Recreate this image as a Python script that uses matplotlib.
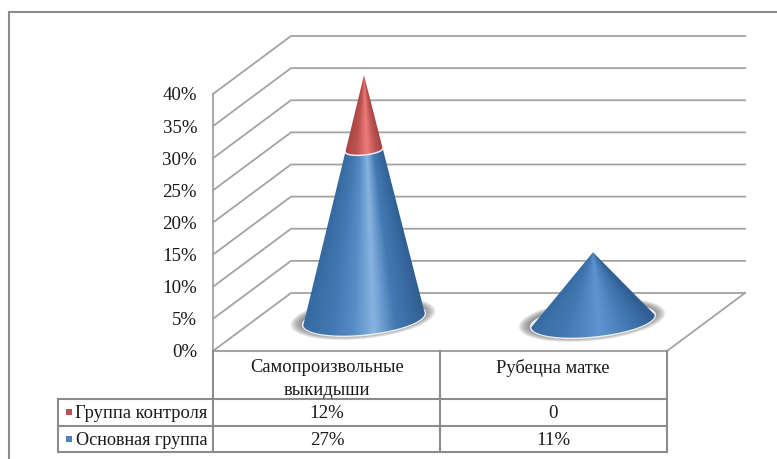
import numpy as np
from matplotlib import pyplot as plt
from matplotlib.patches import Ellipse, Polygon, Rectangle
from matplotlib.colors import LinearSegmentedColormap

plt.rcParams['font.family'] = ['Liberation Serif', 'DejaVu Serif']

categories = ['Самопроизвольные\nвыкидыши', 'Рубецна матке']
control_group = [12, 0]
main_group = [27, 11]
control_labels = ['12%', '0']
main_labels = ['27%', '11%']
series_names = ['Группа контроля', 'Основная группа']
y_ticks = [0, 5, 10, 15, 20, 25, 30, 35, 40]

GREY = '#a3a3a3'
DARK_GREY = '#8c8c8c'
TEXT = '#1a1a1a'

# floor and walls of the pseudo 3d box, in figure pixels
x_front, x_back, x_right_front, x_right_back = 213, 291, 667, 745
y_zero, y_top = 352, 95
depth = 58
per_percent = (y_zero - y_top) / 40
# cones stand further back in the box so their scale is a bit smaller
cone_scale = 6.25
tilt = np.radians(-5.8)

blue_map = LinearSegmentedColormap.from_list(
    'blue', [(0, '#34689f'), (0.25, '#4379b2'), (0.42, '#568dc6'), (0.58, '#88b3e0'), (0.75, '#437ab3'), (1, '#315f94')])
blue_map_soft = LinearSegmentedColormap.from_list(
    'blue_soft', [(0, '#34689f'), (0.3, '#4379b2'), (0.55, '#5e94cf'), (0.75, '#437ab3'), (1, '#315f94')])
red_map = LinearSegmentedColormap.from_list(
    'red', [(0, '#a84542'), (0.3, '#bd5351'), (0.58, '#f07c7a'), (0.8, '#bd5553'), (1, '#a44240')])


def on_ellipse(cx, cy, a, b, t):
    # point on the tilted base ellipse
    ex = a * np.cos(t)
    ey = b * np.sin(t)
    return cx + ex * np.cos(tilt) - ey * np.sin(tilt), cy + ex * np.sin(tilt) + ey * np.cos(tilt)


def shade(ax, outline, cx, half_w, apex, base, cmap):
    # gradient that narrows towards the apex, clipped to the outline
    xs = np.array([p[0] for p in outline])
    ys = np.array([p[1] for p in outline])
    x0, x1, y0, y1 = xs.min(), xs.max(), ys.min(), ys.max()
    gx, gy = np.meshgrid(np.linspace(x0, x1, 300), np.linspace(y0, y1, 300))
    width = np.maximum(half_w * (gy - apex) / (base - apex), 1)
    grad = np.clip(0.5 + (gx - cx) / (2 * width), 0, 1)
    im = ax.imshow(grad, extent=(x0, x1, y1, y0), cmap=cmap, vmin=0, vmax=1, aspect='auto', zorder=4,
                   interpolation='bilinear')
    patch = Polygon(outline, closed=True, transform=ax.transData, facecolor='none', edgecolor='none')
    ax.add_patch(patch)
    im.set_clip_path(patch)


def cone(ax, cx, half_w, half_h, base, low, high, body_map):
    total = low + high
    # soft shadow under the base
    for i in range(12):
        grow = (12 - i) * 1.0
        ax.add_patch(Ellipse((cx - 1, base - 1), 2 * (half_w + grow), 2 * (half_h + grow * 0.45),
                             angle=np.degrees(tilt), color='#555555', alpha=0.08, lw=0, zorder=2))
    ax.add_patch(Ellipse((cx, base), 2 * half_w + 3, 2 * half_h + 3, angle=np.degrees(tilt),
                         color='#eeeeee', lw=0, zorder=3))

    t = np.linspace(0, np.pi, 80)
    apex = base - total * cone_scale
    cut = base - low * cone_scale
    frac = high / total
    cut_w = half_w * frac
    cut_h = half_h * frac

    bx, by = on_ellipse(cx, base, half_w, half_h, t)
    pts = list(zip(bx, by))
    if high > 0:
        ux, uy = on_ellipse(cx, cut, cut_w, cut_h, t)
        pts += list(zip(ux[::-1], uy[::-1]))
    else:
        pts += [(cx, apex)]
    shade(ax, pts, cx, half_w, apex, base, body_map)

    if high > 0:
        top = list(zip(ux, uy)) + [(cx, apex)]
        shade(ax, top, cx, half_w, apex, base, red_map)
        ax.plot(ux, uy, color='#ececec', lw=1.1, zorder=5)


fig = plt.figure(figsize=(7.77, 4.60), dpi=100)
ax = fig.add_axes([0, 0, 1, 1])
ax.axis('off')

# outer frame
ax.plot([9, 9], [460, 13], color=DARK_GREY, lw=1.5)
ax.plot([9, 777], [13, 13], color=DARK_GREY, lw=1.5)

# gridlines on the side wall and back wall
for v in y_ticks:
    y = y_zero - v * per_percent
    ax.plot([x_front, x_back, x_right_back], [y, y - depth, y - depth], color=GREY, lw=1.3, zorder=1)
    ax.text(197, y + 1, f'{v}%', ha='right', va='center', fontsize=13.6, color=TEXT)

ax.plot([x_front, x_front], [y_zero, y_top], color=GREY, lw=1.3, zorder=1)
ax.plot([x_right_front, x_right_back], [y_zero, y_zero - depth], color=GREY, lw=1.3, zorder=1)

# cones
centers = [364, 593]
half_widths = [61, 62]
bases = [320, 322]
maps = [blue_map, blue_map_soft]
for cx, hw, b, m, c, body in zip(centers, half_widths, bases, main_group, control_group, maps):
    cone(ax, cx, hw, 15.5, b, m, c, body)

# data table under the floor
rows = [352, 400, 427, 453]
ax.plot([x_front, x_right_front], [rows[0], rows[0]], color=GREY, lw=1.5, zorder=1)
for y in rows[1:]:
    ax.plot([58, x_right_front], [y, y], color=DARK_GREY, lw=1.5)
ax.plot([58, 58], [rows[1], rows[3]], color=DARK_GREY, lw=1.5)
ax.plot([x_front, x_front], [rows[0], rows[3]], color=DARK_GREY, lw=1.5)
ax.plot([440, 440], [rows[0], rows[3]], color=DARK_GREY, lw=1.5)
ax.plot([x_right_front, x_right_front], [rows[0], rows[3]], color=DARK_GREY, lw=1.5)

col_x = [327, 553]
for x, cat in zip(col_x, categories):
    ax.text(x, 359, cat, ha='center', va='top', fontsize=13.3, color=TEXT, linespacing=1.45)
for x, a, b in zip(col_x, control_labels, main_labels):
    ax.text(x, 414, a, ha='center', va='center', fontsize=13.6, color=TEXT)
    ax.text(x, 441, b, ha='center', va='center', fontsize=13.6, color=TEXT)

ax.add_patch(Rectangle((66, 410), 6, 6, color='#c0504d', lw=0))
ax.add_patch(Rectangle((66, 437), 6, 6, color='#4f81bd', lw=0))
ax.text(207, 414, series_names[0], ha='right', va='center', fontsize=13.3, color=TEXT)
ax.text(207, 441, series_names[1], ha='right', va='center', fontsize=13.1, color=TEXT)

ax.set_xlim(0, 777)
ax.set_ylim(460, 0)
fig.savefig('out.png', dpi=100)
